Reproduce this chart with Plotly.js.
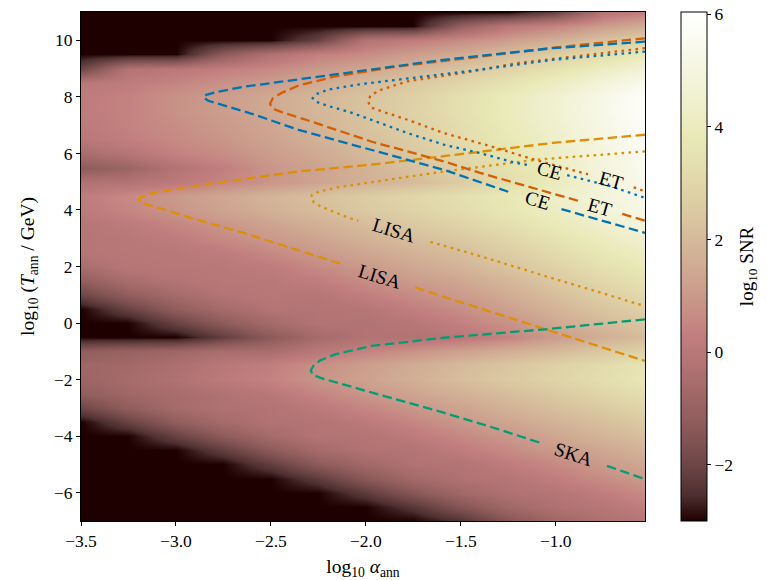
<!DOCTYPE html>
<html>
<head>
<meta charset="utf-8">
<script src="https://cdn.plot.ly/plotly-3.0.1.min.js"></script>
<style>html,body{margin:0;padding:0;background:#fff;}#chart{width:767px;height:580px;}</style>
</head>
<body>
<div id="chart"></div>
<script>
// ---------- heat-map grid (log10 SNR) ----------
const logAlpha = [-3.5, -3.25, -3.0, -2.75, -2.5, -2.25, -2.0, -1.75, -1.5, -1.25, -1.0, -0.75, -0.5];
const logT = [11, 10.5, 10, 9.5, 9, 8.5, 8, 7.5, 7, 6.5, 6, 5.5, 5, 4.5, 4, 3.5, 3, 2.5, 2, 1.5, 1, 0.5, 0,
              -0.5, -1, -1.5, -2, -2.5, -3, -3.5, -4, -4.5, -5, -5.5, -6, -6.5, -7];
// one list per log10(alpha) column, from log10 T = 11 down to -7
const snrColumns = [
 [-3,-3,-3,-3,-2.0,0.0,0.2,0.2,0.1,0.0,-0.5,-1.3,-0.3,0.2,0.1,-0.1,-0.1,-0.1,-0.5,-1.2,-2.0,-3,-3,-3,-1.2,-0.8,-0.9,-1.2,-2.0,-3,-3,-3,-3,-3,-3,-3,-3],
 [-3,-3,-3,-3,-0.2,0.2,0.4,0.4,0.4,0.3,-0.1,-0.9,-0.2,0.6,0.5,0.15,0.0,0.0,-0.1,-0.5,-1.2,-2.1,-3,-3,-1.0,-0.7,-0.6,-0.75,-1.2,-2.1,-3,-3,-3,-3,-3,-3,-3],
 [-3,-3,-3,-3,0.0,0.5,0.8,0.8,0.7,0.6,0.4,-0.2,0.1,1.0,0.9,0.5,0.2,0.0,0.0,-0.2,-0.6,-1.2,-2.1,-3,-0.8,-0.4,-0.3,-0.55,-0.6,-1.2,-2.1,-3,-3,-3,-3,-3,-3],
 [-3,-3,-3,-1.3,0.3,0.8,1.1,1.1,1.0,0.9,0.7,0.3,0.5,1.4,1.3,0.9,0.6,0.2,0.0,0.0,-0.2,-0.6,-1.3,-2.2,-0.5,0.0,0.1,-0.3,-0.3,-0.6,-1.3,-2.2,-3,-3,-3,-3,-3],
 [-3,-3,-3,-0.3,0.6,1.1,1.5,1.5,1.4,1.3,1.1,0.9,0.9,1.8,1.7,1.3,1.0,0.6,0.2,0.0,0.0,-0.2,-0.6,-1.3,-0.5,0.3,0.4,0.0,-0.25,-0.25,-0.6,-1.3,-2.2,-3,-3,-3,-3],
 [-3,-3,-2.1,0.3,1.0,1.5,1.9,1.9,1.8,1.7,1.5,1.3,1.3,2.2,2.1,1.7,1.35,1.0,0.6,0.25,-0.1,-0.2,-0.2,-0.6,0.0,0.75,0.85,0.45,0.1,-0.2,-0.2,-0.6,-1.3,-2.3,-3,-3,-3],
 [-3,-3,-0.2,0.65,1.4,2.0,2.3,2.3,2.3,2.15,2.0,1.75,1.7,2.6,2.5,2.1,1.75,1.4,1.0,0.65,0.3,-0.1,-0.25,-0.25,0.4,1.15,1.25,0.9,0.5,0.1,-0.2,-0.25,-0.7,-1.4,-2.3,-3,-3],
 [-3,-3,0.2,1.1,1.85,2.45,2.8,2.85,2.75,2.65,2.5,2.25,2.05,3.0,2.85,2.5,2.15,1.75,1.4,1.05,0.65,0.3,-0.05,-0.25,0.8,1.55,1.65,1.3,0.9,0.5,0.15,-0.2,-0.25,-0.7,-1.45,-2.4,-3],
 [-3,-1.1,0.65,1.55,2.35,3.0,3.35,3.4,3.3,3.2,3.05,2.8,2.6,3.35,3.25,2.9,2.5,2.15,1.8,1.4,1.05,0.7,0.35,0.0,1.2,2.0,2.1,1.7,1.3,0.95,0.55,0.2,-0.2,-0.3,-0.75,-1.5,-2.5],
 [-3,0.0,1.1,2.1,2.9,3.55,3.95,4.0,3.9,3.8,3.6,3.45,3.3,3.8,3.7,3.35,3.0,2.65,2.3,1.9,1.55,1.2,0.8,0.45,1.6,2.4,2.5,2.1,1.75,1.35,0.95,0.6,0.2,-0.15,-0.3,-0.75,-1.5],
 [-2.1,0.5,1.65,2.65,3.5,4.15,4.55,4.6,4.5,4.4,4.25,4.1,4.0,4.3,4.2,3.9,3.55,3.2,2.85,2.5,2.15,1.8,1.45,1.1,2.0,2.8,2.9,2.5,2.15,1.75,1.4,1.0,0.6,0.25,-0.15,-0.3,-0.8],
 [-0.2,1.1,2.25,3.25,4.15,4.85,5.25,5.3,5.2,5.1,4.95,4.9,4.8,4.85,4.75,4.45,4.1,3.75,3.4,3.05,2.7,2.35,2.0,1.65,2.45,3.2,3.3,2.95,2.55,2.15,1.8,1.4,1.05,0.65,0.25,-0.1,-0.35],
 [0.35,1.65,2.85,3.9,4.8,5.5,5.95,6.0,5.9,5.8,5.7,5.6,5.5,5.4,5.3,5.0,4.6,4.25,3.9,3.55,3.2,2.85,2.5,2.1,2.85,3.65,3.75,3.35,3.0,2.6,2.2,1.85,1.45,1.05,0.7,0.3,-0.05]
];

// ---------- detection contours ----------
const ceDashX  = [-0.53,-1.017,-1.59,-2.163,-2.64,-2.78,-2.84,-2.855,-2.83,-2.77,-2.60,-2.354,-1.972,-1.59,-1.24,null,-0.97,-0.53];
const ceDashY  = [9.95,9.72,9.31,8.78,8.36,8.18,8.07,7.98,7.86,7.74,7.40,6.83,6.13,5.42,4.62,null,4.03,3.19];
const etDashX  = [-0.53,-1.0,-1.399,-1.838,-2.163,-2.354,-2.44,-2.49,-2.505,-2.49,-2.44,-2.316,-1.972,-1.59,-1.399,-1.093,-0.88,null,-0.65,-0.53];
const etDashY  = [10.07,9.75,9.42,9.07,8.72,8.40,8.15,7.95,7.75,7.58,7.45,7.19,6.42,5.72,5.31,4.74,4.32,null,3.86,3.62];
const ceDotX   = [-0.53,-1.017,-1.399,-1.781,-2.048,-2.201,-2.26,-2.28,-2.26,-2.20,-2.067,-1.781,-1.59,-1.399,-1.208,-1.13,null,-0.94,-0.883,-0.711,-0.53];
const ceDotY   = [9.6,9.31,8.96,8.66,8.43,8.25,8.10,7.95,7.82,7.68,7.42,6.72,6.31,6.01,5.66,5.57,null,5.23,5.13,4.84,4.43];
const etDotX   = [-0.53,-0.826,-1.208,-1.495,-1.781,-1.92,-1.975,-1.99,-1.972,-1.90,-1.781,-1.59,-1.342,-1.113,-0.921,-0.83,null,-0.59,-0.53];
const etDotY   = [9.72,9.48,9.19,8.84,8.55,8.25,8.05,7.85,7.62,7.45,7.19,6.72,6.25,5.78,5.42,5.26,null,4.80,4.66];
const lisaDashX = [-0.53,-1.017,-1.59,-1.972,-2.354,-2.736,-3.022,-3.13,-3.18,-3.195,-3.18,-3.118,-2.927,-2.64,-2.354,-2.12,null,-1.74,-1.59,-1.017,-0.53];
const lisaDashY = [6.66,6.37,5.90,5.60,5.36,5.01,4.72,4.58,4.47,4.36,4.24,4.13,3.73,3.18,2.57,2.07,null,1.26,0.93,-0.30,-1.34];
const lisaDotX = [-0.53,-1.1,-1.6,-1.95,-2.15,-2.25,-2.285,-2.29,-2.275,-2.24,-2.087,-2.04,null,-1.66,-1.399,-1.113,-0.826,-0.53];
const lisaDotY = [6.07,5.78,5.35,5.00,4.80,4.64,4.52,4.42,4.28,4.13,3.71,3.62,null,2.87,2.37,1.78,1.19,0.60];
const skaDashX = [-0.53,-1.055,-1.59,-1.972,-2.163,-2.24,-2.275,-2.29,-2.28,-2.239,-1.972,-1.59,-1.304,-1.08,null,-0.73,-0.53];
const skaDashY = [0.13,-0.22,-0.52,-0.81,-1.11,-1.32,-1.50,-1.68,-1.83,-1.94,-2.45,-3.17,-3.75,-4.24,null,-5.05,-5.52];

// inline contour labels
const labelText = ['CE', 'ET', 'CE', 'ET', 'LISA', 'LISA', 'SKA'];
const labelX    = [-1.035, -0.71, -1.094, -0.765, -1.852, -1.93, -0.905];
const labelY    = [5.40, 5.03, 4.33, 4.10, 3.26, 1.66, -4.64];
const labelAng  = [16, 16, 17, 16, 17, 17, 18];

const colCE = '#0173b2', colET = '#d55e00', colLISA = '#de8f05', colSKA = '#029e73';
const DASH = '9.5px,4.5px', DOT = '2.6px,4.4px';

// build z table (rows = ascending log T)
const yAsc = logT.slice().reverse();
const z = yAsc.map((_, j) => snrColumns.map(col => col[logT.length - 1 - j]));

const pinkScale = [
 [0.00,'rgb(30,0,0)'],[0.05,'rgb(77,47,47)'],[0.10,'rgb(105,66,66)'],[0.15,'rgb(126,81,81)'],
 [0.20,'rgb(145,93,93)'],[0.25,'rgb(161,104,104)'],[0.30,'rgb(176,114,114)'],[0.365,'rgb(194,126,126)'],
 [0.40,'rgb(198,139,132)'],[0.45,'rgb(203,156,140)'],[0.50,'rgb(208,171,147)'],[0.55,'rgb(213,185,154)'],
 [0.60,'rgb(218,199,161)'],[0.65,'rgb(223,211,168)'],[0.70,'rgb(228,222,174)'],[0.746,'rgb(232,232,180)'],
 [0.80,'rgb(237,237,198)'],[0.85,'rgb(242,242,214)'],[0.90,'rgb(246,246,228)'],[0.95,'rgb(251,251,242)'],
 [1.00,'rgb(255,255,255)']
];

const FONT = 'Liberation Serif, DejaVu Serif, serif';

const heat = {
  type: 'heatmap', x: logAlpha, y: yAsc, z: z, zsmooth: 'best',
  colorscale: pinkScale, zmin: -3, zmax: 6.04, hoverinfo: 'skip',
  colorbar: {
    x: 1.0638, xanchor: 'left', xpad: 0, y: 0.5, yanchor: 'middle', len: 1, ypad: 0,
    thickness: 26, outlinewidth: 1, outlinecolor: '#000',
    ticks: 'outside', ticklen: 4, tickwidth: 1, tickcolor: '#000',
    tickvals: [-2, 0, 2, 4, 6], tickfont: {size: 17.5, family: FONT, color: '#000'}
  }
};

function line(x, y, color, dash) {
  return {type: 'scatter', mode: 'lines', x: x, y: y, connectgaps: false, hoverinfo: 'skip',
          showlegend: false, line: {color: color, width: 2.3, dash: dash}};
}

const traces = [
  heat,
  line(lisaDashX, lisaDashY, colLISA, DASH),
  line(lisaDotX, lisaDotY, colLISA, DOT),
  line(skaDashX, skaDashY, colSKA, DASH),
  line(etDashX, etDashY, colET, DASH),
  line(etDotX, etDotY, colET, DOT),
  line(ceDashX, ceDashY, colCE, DASH),
  line(ceDotX, ceDotY, colCE, DOT)
];

const annotations = labelText.map((t, i) => ({
  x: labelX[i], y: labelY[i], xref: 'x', yref: 'y', text: t, showarrow: false,
  textangle: labelAng[i], font: {size: 19.5, family: FONT, color: '#000'}
}));
annotations.push({
  x: 1.182, y: 0.5, xref: 'paper', yref: 'paper', xanchor: 'center', yanchor: 'middle',
  text: 'log<sub>10</sub> SNR', showarrow: false, textangle: -90,
  font: {size: 19, family: FONT, color: '#000'}
});

const layout = {
  width: 767, height: 580,
  margin: {l: 81, r: 122, t: 12, b: 59, pad: 0},
  paper_bgcolor: '#fff', plot_bgcolor: '#fff',
  font: {family: FONT, color: '#000', size: 17.5},
  showlegend: false,
  xaxis: {
    range: [-3.5, -0.53], autorange: false, tickvals: [-3.5, -3.0, -2.5, -2.0, -1.5, -1.0], tickformat: '.1f',
    showline: true, mirror: true, linecolor: '#000', linewidth: 1,
    ticks: 'outside', ticklen: 4, tickwidth: 1, tickcolor: '#000',
    showgrid: false, zeroline: false, tickfont: {size: 17.5},
    title: {text: 'log<sub>10</sub> <i>α</i><sub>ann</sub>', font: {size: 19.5}, standoff: 9}
  },
  yaxis: {
    range: [-7, 11], autorange: false, tickvals: [-6, -4, -2, 0, 2, 4, 6, 8, 10],
    showline: true, mirror: true, linecolor: '#000', linewidth: 1,
    ticks: 'outside', ticklen: 4, tickwidth: 1, tickcolor: '#000',
    showgrid: false, zeroline: false, tickfont: {size: 17.5},
    title: {text: 'log<sub>10</sub> (<i>T</i><sub>ann</sub> / GeV)', font: {size: 19.5}, standoff: 14}
  },
  annotations: annotations
};

Plotly.newPlot('chart', traces, layout, {displayModeBar: false, staticPlot: true});
</script>
</body>
</html>
